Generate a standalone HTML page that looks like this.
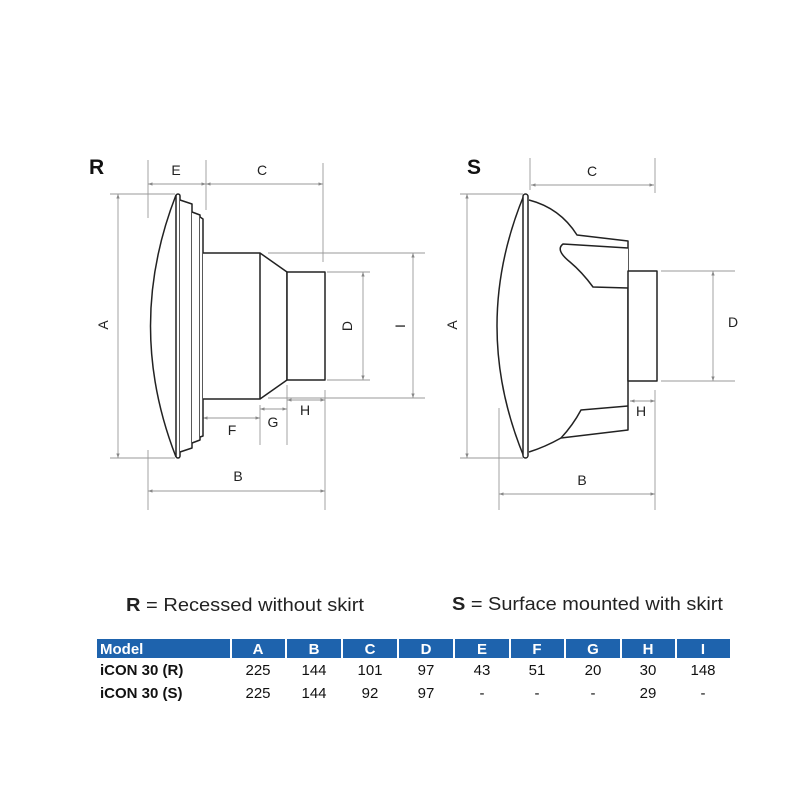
<!DOCTYPE html>
<html><head><meta charset="utf-8"><style>
html,body{margin:0;padding:0;background:#fff;}
svg{display:block;font-family:"Liberation Sans",Arial,sans-serif;}
</style></head><body>
<svg width="800" height="800" viewBox="0 0 800 800" xmlns="http://www.w3.org/2000/svg">
<defs>
<marker id="ar" viewBox="0 0 6 6" refX="6" refY="3" markerWidth="5" markerHeight="5" orient="auto-start-reverse"><path d="M0,0.8 L6,3 L0,5.2 z" fill="#888"/></marker>
</defs>
<rect width="800" height="800" fill="#fff"/>

<!-- R titles -->
<text x="89" y="174" font-size="21" font-weight="bold" fill="#111">R</text>
<text x="467" y="174" font-size="21" font-weight="bold" fill="#111">S</text>

<!-- R dimension lines -->
<g stroke="#999" stroke-width="0.9" fill="none">
 <line x1="148" y1="160" x2="148" y2="218"/>
 <line x1="206" y1="160" x2="206" y2="210"/>
 <line x1="323" y1="163" x2="323" y2="262"/>
 <line x1="148" y1="184" x2="206" y2="184" marker-start="url(#ar)" marker-end="url(#ar)"/>
 <line x1="206" y1="184" x2="323" y2="184" marker-start="url(#ar)" marker-end="url(#ar)"/>
 <line x1="110" y1="194" x2="175" y2="194"/>
 <line x1="110" y1="458" x2="175" y2="458"/>
 <line x1="118" y1="194" x2="118" y2="458" marker-start="url(#ar)" marker-end="url(#ar)"/>
 <line x1="327" y1="272" x2="370" y2="272"/>
 <line x1="327" y1="380" x2="370" y2="380"/>
 <line x1="363" y1="272" x2="363" y2="380" marker-start="url(#ar)" marker-end="url(#ar)"/>
 <line x1="268" y1="253" x2="425" y2="253"/>
 <line x1="268" y1="398" x2="425" y2="398"/>
 <line x1="413" y1="253" x2="413" y2="398" marker-start="url(#ar)" marker-end="url(#ar)"/>
 <line x1="287" y1="385" x2="287" y2="445"/>
 <line x1="325" y1="390" x2="325" y2="510"/>
 <line x1="260" y1="405" x2="260" y2="445"/>
 <line x1="287" y1="400" x2="325" y2="400" marker-start="url(#ar)" marker-end="url(#ar)"/>
 <line x1="260" y1="409" x2="287" y2="409" marker-start="url(#ar)" marker-end="url(#ar)"/>
 <line x1="203" y1="418" x2="260" y2="418" marker-start="url(#ar)" marker-end="url(#ar)"/>
 <line x1="148" y1="450" x2="148" y2="510"/>
 <line x1="148" y1="491" x2="325" y2="491" marker-start="url(#ar)" marker-end="url(#ar)"/>
</g>
<g font-size="14" fill="#222" text-anchor="middle">
 <text x="176" y="175">E</text>
 <text x="262" y="175">C</text>
 <text x="305" y="415">H</text>
 <text x="273" y="427">G</text>
 <text x="232" y="435">F</text>
 <text x="238" y="481">B</text>
 <text transform="translate(108,325) rotate(-90)">A</text>
 <text transform="translate(352,326) rotate(-90)">D</text>
 <text transform="translate(405,326) rotate(-90)">I</text>
</g>

<!-- R drawing -->
<g stroke="#222" stroke-width="1.5" fill="#fff" stroke-linejoin="round">
 <path d="M176,195 Q125,326 176,457"/>
 <rect x="176" y="194" width="4" height="264" rx="2"/>
 <path d="M180,200 L192,204 L192,448 L180,452"/>
 <path d="M192,212 L200,215 L200,440 L192,443"/>
 <path d="M200,217 L203,219 L203,436 L200,437"/>
 <path d="M203,253 L260,253 L287,272 L287,380 L260,399 L203,399"/>
 <line x1="260" y1="253" x2="260" y2="399"/>
 <rect x="287" y="272" width="38" height="108"/>
</g>

<!-- S dimension lines -->
<g stroke="#999" stroke-width="0.9" fill="none">
 <line x1="530" y1="158" x2="530" y2="190"/>
 <line x1="655" y1="158" x2="655" y2="193"/>
 <line x1="531" y1="185" x2="654" y2="185" marker-start="url(#ar)" marker-end="url(#ar)"/>
 <line x1="460" y1="194" x2="523" y2="194"/>
 <line x1="460" y1="458" x2="523" y2="458"/>
 <line x1="467" y1="194" x2="467" y2="458" marker-start="url(#ar)" marker-end="url(#ar)"/>
 <line x1="661" y1="271" x2="735" y2="271"/>
 <line x1="661" y1="381" x2="735" y2="381"/>
 <line x1="713" y1="271" x2="713" y2="381" marker-start="url(#ar)" marker-end="url(#ar)"/>
 <line x1="655" y1="390" x2="655" y2="510"/>
 <line x1="630" y1="401" x2="655" y2="401" marker-start="url(#ar)" marker-end="url(#ar)"/>
 <line x1="499" y1="408" x2="499" y2="510"/>
 <line x1="499" y1="494" x2="655" y2="494" marker-start="url(#ar)" marker-end="url(#ar)"/>
</g>
<g font-size="14" fill="#222" text-anchor="middle">
 <text x="592" y="176">C</text>
 <text x="733" y="327">D</text>
 <text x="641" y="416">H</text>
 <text x="582" y="485">B</text>
 <text transform="translate(457,325) rotate(-90)">A</text>
</g>

<!-- S drawing -->
<g stroke="#222" stroke-width="1.5" fill="#fff" stroke-linejoin="round">
 <path d="M524,195 Q470,326 524,457"/>
 <rect x="523" y="194" width="5" height="264" rx="2.5"/>
 <path d="M529,200 Q560,208 577,235 L628,241 L628,430 L561,438 Q545,447 529,452"/>
 <path d="M628,248 L563,244 Q555,250 570,262 Q582,272 593,287 L628,288"/>
 <path d="M628,406 L581,410 Q573,425 561,438"/>
 <rect x="628" y="271" width="29" height="110"/>
</g>

<!-- captions -->
<text x="126" y="611" font-size="18" fill="#222" textLength="238" lengthAdjust="spacingAndGlyphs"><tspan font-weight="bold">R</tspan> = Recessed without skirt</text>
<text x="452" y="610" font-size="18" fill="#222" textLength="271" lengthAdjust="spacingAndGlyphs"><tspan font-weight="bold">S</tspan> = Surface mounted with skirt</text>

<!-- table -->
<rect x="97" y="639" width="633" height="19" fill="#1e63ad"/>
<g stroke="#fff" stroke-width="2">
 <line x1="231" y1="639" x2="231" y2="658"/>
 <line x1="286" y1="639" x2="286" y2="658"/>
 <line x1="342" y1="639" x2="342" y2="658"/>
 <line x1="398" y1="639" x2="398" y2="658"/>
 <line x1="454" y1="639" x2="454" y2="658"/>
 <line x1="510" y1="639" x2="510" y2="658"/>
 <line x1="565" y1="639" x2="565" y2="658"/>
 <line x1="621" y1="639" x2="621" y2="658"/>
 <line x1="676" y1="639" x2="676" y2="658"/>
</g>
<g font-size="15" font-weight="bold" fill="#fff" text-anchor="middle">
 <text x="100" y="654" text-anchor="start">Model</text>
 <text x="258" y="654">A</text><text x="314" y="654">B</text><text x="370" y="654">C</text>
 <text x="426" y="654">D</text><text x="482" y="654">E</text><text x="537" y="654">F</text>
 <text x="593" y="654">G</text><text x="648" y="654">H</text><text x="703" y="654">I</text>
</g>
<g font-size="15" fill="#111" text-anchor="middle">
 <text x="100" y="675" text-anchor="start" font-weight="bold">iCON 30 (R)</text>
 <text x="258" y="675">225</text><text x="314" y="675">144</text><text x="370" y="675">101</text>
 <text x="426" y="675">97</text><text x="482" y="675">43</text><text x="537" y="675">51</text>
 <text x="593" y="675">20</text><text x="648" y="675">30</text><text x="703" y="675">148</text>
 <text x="100" y="698" text-anchor="start" font-weight="bold">iCON 30 (S)</text>
 <text x="258" y="698">225</text><text x="314" y="698">144</text><text x="370" y="698">92</text>
 <text x="426" y="698">97</text><text x="482" y="698">-</text><text x="537" y="698">-</text>
 <text x="593" y="698">-</text><text x="648" y="698">29</text><text x="703" y="698">-</text>
</g>
</svg>
</body></html>
